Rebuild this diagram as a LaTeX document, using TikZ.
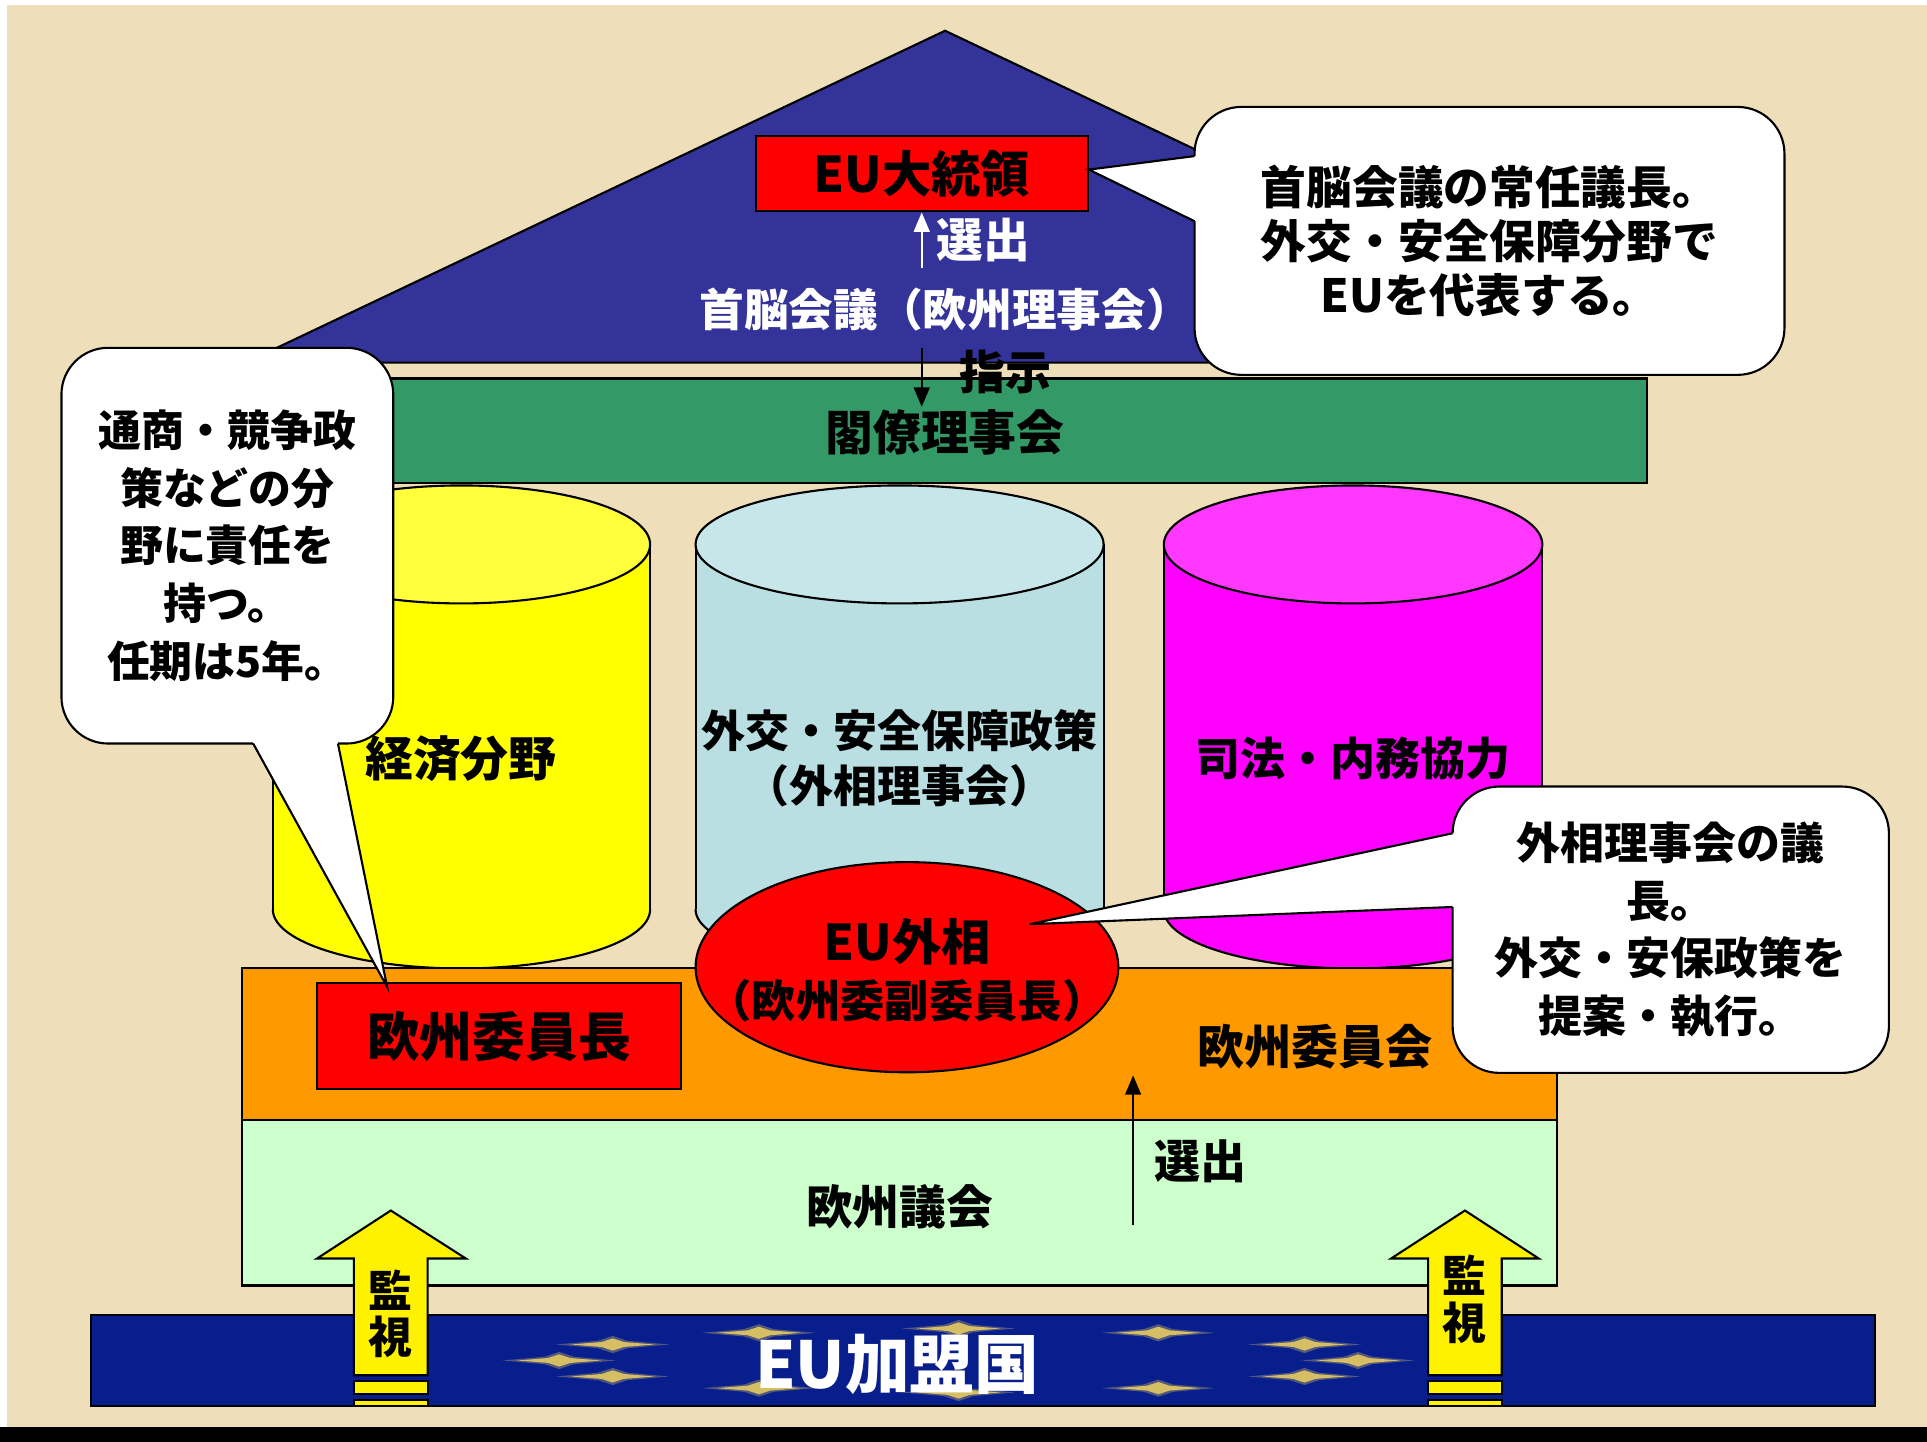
\documentclass[tikz,border=0pt]{standalone}
\usepackage{fontspec}
\usetikzlibrary{arrows.meta,shapes.geometric}
\newfontfamily\jp{Noto Sans CJK JP}
\def\u{0.01229cm}
\newcommand\jf[2]{\jp\bfseries\fontsize{#1}{#2}\selectfont}
\definecolor{bg}{RGB}{238,222,186}
\definecolor{roofc}{RGB}{51,51,153}
\definecolor{councilc}{RGB}{51,153,102}
\definecolor{ybody}{RGB}{255,255,0}
\definecolor{ytop}{RGB}{255,255,60}
\definecolor{bbody}{RGB}{185,223,227}
\definecolor{btop}{RGB}{198,230,233}
\definecolor{mbody}{RGB}{255,0,255}
\definecolor{mtop}{RGB}{255,55,255}
\definecolor{commc}{RGB}{255,153,0}
\definecolor{parlc}{RGB}{204,255,204}
\definecolor{eubarc}{RGB}{8,30,140}
\definecolor{starc}{RGB}{214,190,100}
\newcommand\cylnd[7]{%
  \fill[#6] (#1,#3) rectangle (#2,#4);
  \fill[#6] ({(#1+#2)/2},#4) ellipse [x radius={(#2-#1)/2}, y radius=#5];
  \begin{scope}
    \clip (#1-5,#4) rectangle (#2+5,#4+#5+5);
    \draw ({(#1+#2)/2},#4) ellipse [x radius={(#2-#1)/2}, y radius=#5];
  \end{scope}
  \draw (#1,#3) -- (#1,#4) (#2,#3) -- (#2,#4);
  \filldraw[fill=#7] ({(#1+#2)/2},#3) ellipse [x radius={(#2-#1)/2}, y radius=#5];
}
\begin{document}
\begin{tikzpicture}[x=\u,y=-\u,line width=0.6pt,
  boxr/.style={rectangle,draw=black,inner sep=0pt},
  bubble/.style={rectangle,draw=black,fill=white,rounded corners=38*\u,inner sep=0pt,align=center},
  arr/.style={-{Triangle[width=4.5pt,length=5.5pt]},line width=0.6pt},
  ymon/.style={fill=yellow,draw=black,line width=0.6pt}]
\useasboundingbox (0,0) rectangle (1568,1173);
% background
\fill[bg] (0,0) rectangle (1568,1173);
\fill[white] (0,0) rectangle (1568,4);
\fill[white] (0,0) rectangle (6,1173);
\fill[black] (0,1161) rectangle (1568,1173);
% roof
\filldraw[fill=roofc,draw=black] (769,25) -- (1338,295) -- (200,295) -- cycle;
% council bar
\node[boxr,fill=councilc,minimum width=1100*\u,minimum height=85*\u] (council) at (790,350.5) {};
\node[font=\jf{13.6pt}{16pt}] (counciltxt) at (769,352) {閣僚理事会};
% president
\node[boxr,fill=red,minimum width=270*\u,minimum height=61*\u,font=\jf{14pt}{16pt}] (pres) at (750,141.5) {EU大統領};
\node[text=white,font=\jf{12.7pt}{15pt}] (summit) at (769,252) {首脳会議（欧州理事会）};
\coordinate (selA) at (750,218);
\draw[arr,white] (selA) -- (pres.south);
\node[text=white,font=\jf{13.3pt}{15pt}] (seltop) at (800,195) {選出};
\coordinate (dirA) at (750,283);
\coordinate (dirB) at (750,331);
\draw[arr,black] (dirA) -- (dirB);
\node[font=\jf{13.1pt}{15pt}] (dirtxt) at (818,303) {指示};
% pillars
\cylnd{222}{529}{443}{740}{48}{ybody}{ytop}
\cylnd{566}{898}{443}{740}{48}{bbody}{btop}
\cylnd{947}{1255}{443}{740}{48}{mbody}{mtop}
\node[font=\jf{13.6pt}{16pt}] (econ) at (375,617) {経済分野};
\node[font=\jf{12.5pt}{15.7pt},align=center] (cfsp) at (732,617) {外交・安全保障政策\\（外相理事会）};
\node[font=\jf{12.8pt}{15pt}] (jha) at (1101,617) {司法・内務協力};
% commission and parliament
\node[boxr,fill=commc,minimum width=1070*\u,minimum height=123*\u] (comm) at (732,849.5) {};
\node[boxr,fill=parlc,minimum width=1070*\u,minimum height=135*\u] (parl) at (732,978.5) {};
\node[font=\jf{13.4pt}{16pt}] (commtxt) at (1070,852) {欧州委員会};
\node[font=\jf{13.3pt}{16pt}] (parltxt) at (732,982) {欧州議会};
\node[boxr,fill=red,minimum width=296*\u,minimum height=86*\u,font=\jf{15pt}{17pt}] (commpres) at (406,843) {欧州委員長};
\node[ellipse,draw=black,fill=red,minimum width=344*\u,minimum height=171*\u,inner sep=0pt] (hr) at (738,787) {};
\node[font=\jf{14pt}{16pt}] (hrtxt1) at (738,766) {EU外相};
\node[font=\jf{12.6pt}{15pt}] (hrtxt2) at (738,814) {（欧州委副委員長）};
\coordinate (elA) at (922,997);
\coordinate (elB) at (922,875);
\draw[arr,black] (elA) -- (elB);
\node[font=\jf{13.1pt}{15pt}] (elbot) at (977,945) {選出};
% member states bar
\node[boxr,fill=eubarc,minimum width=1452*\u,minimum height=74*\u] (members) at (800,1107) {};
\foreach \a in {0,30,...,330}{
  \begin{scope}[shift={({780+325*cos(\a)},{1107-26*sin(\a)})}]
    \fill[starc!45!eubarc,opacity=0.8] (-46,0) -- (-12,-3) -- (0,-7) -- (12,-3) -- (46,0) -- (12,3) -- (0,7) -- (-12,3) -- cycle;
    \fill[starc] (-34,0) -- (-9,-2) -- (0,-5) -- (9,-2) -- (34,0) -- (9,2) -- (0,5) -- (-9,2) -- cycle;
  \end{scope}
}
\node[text=white,font=\jf{18.4pt}{20pt}] (memtxt) at (730,1110) {EU加盟国};
% monitoring arrows
\filldraw[ymon] (318,985) -- (379,1024) -- (348,1024) -- (348,1119) -- (288,1119) -- (288,1024) -- (258,1024) -- cycle;
\filldraw[ymon] (288,1124) rectangle (348,1134);
\filldraw[ymon] (288,1139) rectangle (348,1144);
\node[font=\jf{12.5pt}{13.3pt},align=center] (mon1) at (318,1069) {監\\視};
\filldraw[ymon] (1192,985) -- (1252,1024) -- (1222,1024) -- (1222,1119) -- (1162,1119) -- (1162,1024) -- (1132,1024) -- cycle;
\filldraw[ymon] (1162,1124) rectangle (1222,1134);
\filldraw[ymon] (1162,1139) rectangle (1222,1144);
\node[font=\jf{12.5pt}{13.3pt},align=center] (mon2) at (1192,1057) {監\\視};
% callout top right
\node[bubble,minimum width=480*\u,minimum height=218*\u,font=\jf{13pt}{15.4pt}] (c1) at (1212,196) {首脳会議の常任議長。\\外交・安全保障分野で\\EUを代表する。};
\coordinate (c1tip) at (886,138);
\coordinate (c1a) at (972,127);
\coordinate (c1b) at (972,180);
\fill[white] (c1tip) -- (c1a) -- (980,127) -- (980,180) -- (c1b) -- cycle;
\draw (c1a) -- (c1tip) -- (c1b);
% callout left
\node[bubble,minimum width=270*\u,minimum height=322*\u,font=\jf{12.2pt}{16.4pt}] (c2) at (185,444) {通商・競争政\\策などの分\\野に責任を\\持つ。\\任期は5年。};
\coordinate (c2tip) at (315,803);
\coordinate (c2a) at (206,605);
\coordinate (c2b) at (275,605);
\fill[white] (c2tip) -- (c2a) -- (206,597) -- (275,597) -- (c2b) -- cycle;
\draw (c2a) -- (c2tip) -- (c2b);
% callout bottom right
\node[bubble,minimum width=355*\u,minimum height=233*\u,font=\jf{12.5pt}{16.4pt}] (c3) at (1359.5,756.5) {外相理事会の議\\長。\\外交・安保政策を\\提案・執行。};
\coordinate (c3tip) at (838,752);
\coordinate (c3a) at (1182,678);
\coordinate (c3b) at (1182,738);
\fill[white] (c3tip) -- (c3a) -- (1190,678) -- (1190,738) -- (c3b) -- cycle;
\draw (c3a) -- (c3tip) -- (c3b);
\end{tikzpicture}
\end{document}
